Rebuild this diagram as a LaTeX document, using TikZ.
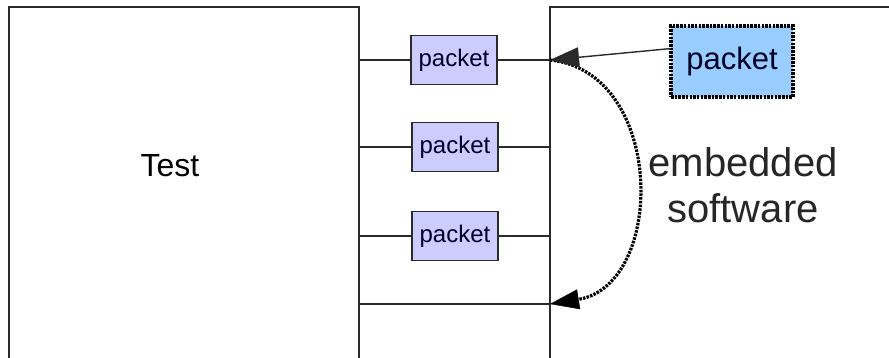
\documentclass[tikz,border=0pt]{standalone}
\usepackage{fontspec}
\setmainfont{Liberation Sans}
\usetikzlibrary{arrows.meta,calc}
\definecolor{lav}{HTML}{CCCCFF}
\definecolor{skyb}{HTML}{99CCFF}
\definecolor{ln}{HTML}{2A2A2A}
\begin{document}
\begin{tikzpicture}[x=1pt,y=-1pt,
  every node/.style={inner sep=0pt,outer sep=0pt},
  bigbox/.style={draw=ln,line width=1.3pt,fill=white,rectangle},
  pk/.style={draw=ln,line width=1.1pt,fill=lav,minimum width=86pt,minimum height=49pt,font=\fontsize{24}{28}\selectfont,text=black!85!blue},
  bpk/.style={draw=black,line width=3.6pt,dash pattern=on 2.5pt off 1.2pt,fill=skyb,minimum width=122pt,minimum height=71pt,font=\fontsize{31}{36}\selectfont,text=black!85!blue},
  wire/.style={draw=ln,line width=1.3pt},
  tip/.style={-{Triangle[length=29pt,width=20pt,line width=0.4pt]}}]
\clip (0,0) rectangle (889,357);
\fill[white] (0,0) rectangle (889,357);
\node[bigbox,minimum width=350pt,minimum height=380pt] (test) at (184,197) {};
\node[font=\fontsize{32}{36}\selectfont] (testlbl) at (170,166) {Test};
\node[bigbox,minimum width=400pt,minimum height=380pt] (sw) at (750,197) {};
\node[font=\fontsize{40}{48}\selectfont,align=center,text=black!85] (swlbl) at (743,185) {embedded\\[-2pt]software};
\node[pk] (p1) at (454,60) {packet};
\node[pk] (p2) at (455,147) {packet};
\node[pk] (p3) at (455,236) {packet};
\node[bpk] (bp) at (732,61.5) {packet};
\coordinate (l4) at (test.east |- 0,304);
\coordinate (a1) at (sw.west |- p1);
\coordinate (a4) at (sw.west |- l4);
\draw[wire] (p1.west -| test.east) -- (p1.west);
\draw[wire] (p1.east) -- (a1);
\draw[wire] (p2.west -| test.east) -- (p2.west);
\draw[wire] (p2.east) -- (p2.east -| sw.west);
\draw[wire] (p3.west -| test.east) -- (p3.west);
\draw[wire] (p3.east) -- (p3.east -| sw.west);
\draw[wire] (l4) -- (a4);
\draw[black,line width=3.2pt,dash pattern=on 2.5pt off 1.2pt,tip] (a1) .. controls (666,72) and (666,285) .. (a4);
\draw[ln,line width=1.4pt,tip] (bp.168) -- (a1);
\end{tikzpicture}
\end{document}
